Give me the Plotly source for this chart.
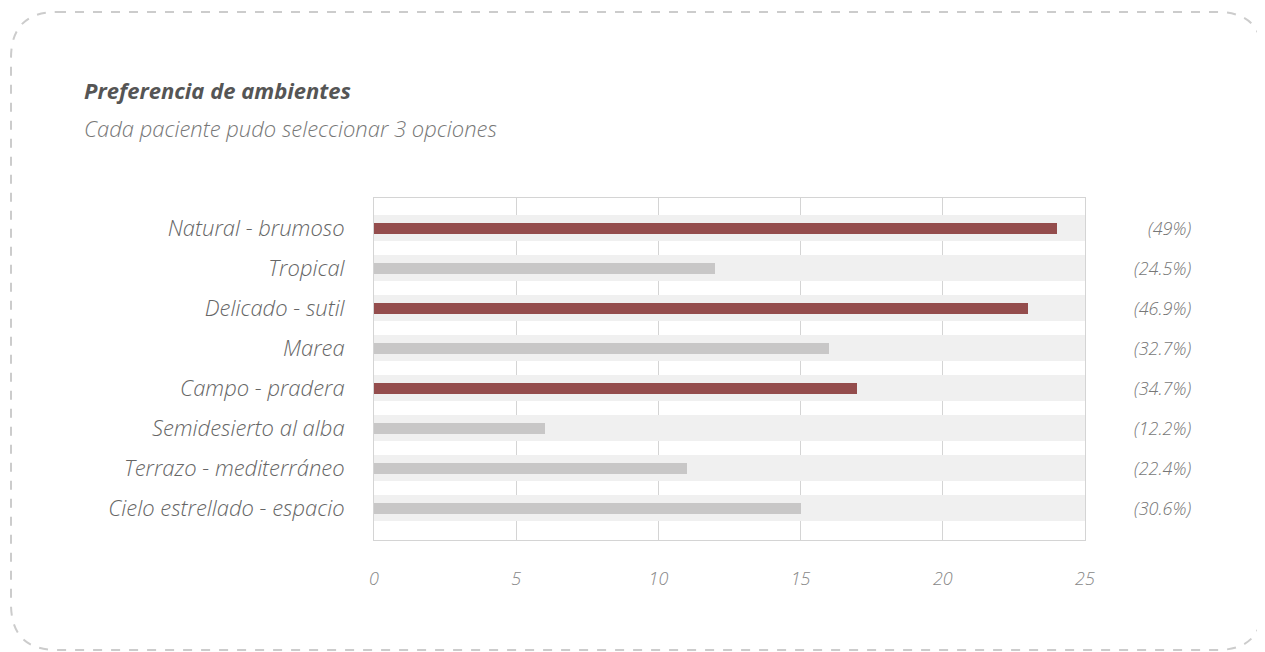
import plotly.graph_objects as go

categories = ["Natural - brumoso", "Tropical", "Delicado - sutil", "Marea",
              "Campo - pradera", "Semidesierto al alba", "Terrazo - mediterráneo",
              "Cielo estrellado - espacio"]
values = [24, 12, 23, 16, 17, 6, 11, 15]
pct_labels = ["(49%)", "(24.5%)", "(46.9%)", "(32.7%)", "(34.7%)", "(12.2%)", "(22.4%)", "(30.6%)"]
highlight = [True, False, True, False, True, False, False, False]
x_max = 25
x_ticks = [0, 5, 10, 15, 20, 25]

OFF = 8  # page body margin
W, H = 1265, 652
L, R, T, B = 374 - OFF, 1085 - OFF, 198 - OFF, 540 - OFF
pw, ph = R - L, B - T

def px(x):
    return (x - OFF - L) / pw

def py(y):
    return 1 - (y - OFF - T) / ph

FONT = "Open Sans"
pos = list(range(len(categories)))

fig = go.Figure()
fig.add_trace(go.Bar(
    y=pos, x=[x_max] * len(categories), orientation="h", width=0.67,
    marker=dict(color="#f0f0f0", line=dict(width=0)), hoverinfo="skip", showlegend=False))
fig.add_trace(go.Bar(
    y=pos, x=values, orientation="h", width=0.275,
    marker=dict(color=["#944d4d" if h else "#c8c7c7" for h in highlight], line=dict(width=0),
                cornerradius=3),
    showlegend=False))

for i, t in enumerate(pct_labels):
    fig.add_annotation(x=px(1193), xref="paper", y=i, yref="y", text=t, showarrow=False,
                       xanchor="right", font=dict(family=FONT, size=18, color="#777777", style="italic", weight=300))

fig.add_annotation(x=px(82), y=py(90), xref="paper", yref="paper", xanchor="left", yanchor="middle",
                   text="Preferencia de ambientes", showarrow=False,
                   font=dict(family=FONT, size=22, color="#555555", style="italic", weight=700))
fig.add_annotation(x=px(82), y=py(128), xref="paper", yref="paper", xanchor="left", yanchor="middle",
                   text="Cada paciente pudo seleccionar 3 opciones", showarrow=False,
                   font=dict(family=FONT, size=22, color="#777777", style="italic", weight=300))

# dashed rounded border
x0, y0, x1, y1, r = 11, 12, 1263, 650, 46
path = (f"M {px(x0+r)},{py(y0)} L {px(x1-r)},{py(y0)} Q {px(x1)},{py(y0)} {px(x1)},{py(y0+r)} "
        f"L {px(x1)},{py(y1-r)} Q {px(x1)},{py(y1)} {px(x1-r)},{py(y1)} "
        f"L {px(x0+r)},{py(y1)} Q {px(x0)},{py(y1)} {px(x0)},{py(y1-r)} "
        f"L {px(x0)},{py(y0+r)} Q {px(x0)},{py(y0)} {px(x0+r)},{py(y0)} Z")
fig.add_shape(type="path", path=path, xref="paper", yref="paper",
              line=dict(color="#cccccc", width=2, dash="dash"), layer="below")

fig.update_layout(
    width=W, height=H, margin=dict(l=L, r=W - R, t=T, b=H - B),
    paper_bgcolor="white", plot_bgcolor="white", barmode="overlay", bargap=0,
    xaxis=dict(range=[0, x_max], tickvals=x_ticks, showgrid=True, gridcolor="#d4d4d4", gridwidth=1,
               zeroline=False, showline=True, linecolor="#d4d4d4", mirror=True,
               ticklabelstandoff=22, fixedrange=True,
               tickfont=dict(family=FONT, size=18, color="#888888", style="italic", weight=300)),
    yaxis=dict(range=[7.8, -0.75], tickvals=pos, ticktext=categories, showgrid=False, zeroline=False,
               showline=True, linecolor="#d4d4d4", mirror=True, ticklabelstandoff=24,
               tickfont=dict(family=FONT, size=22, color="#666666", style="italic", weight=300)),
)

fig.write_html("out.html")
